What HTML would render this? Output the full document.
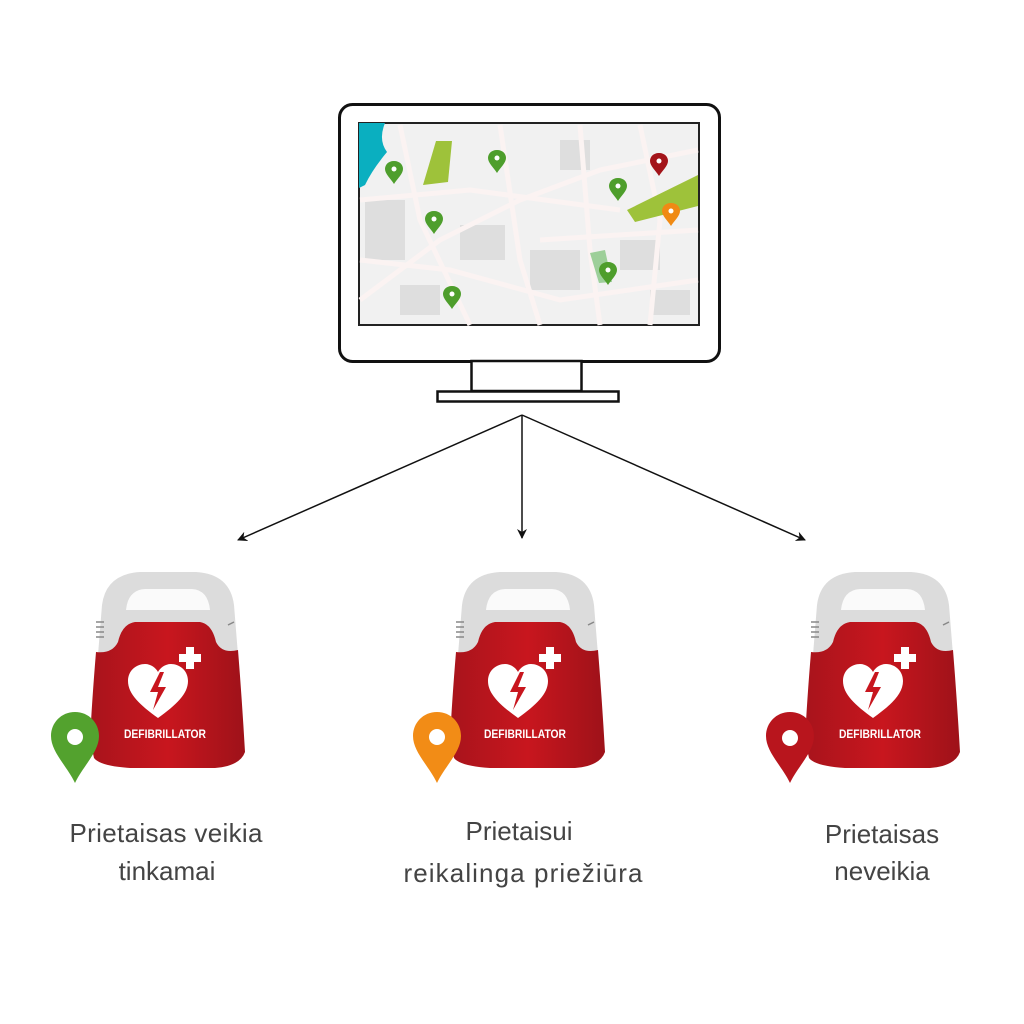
<!DOCTYPE html>
<html><head><meta charset="utf-8"><style>
html,body{margin:0;padding:0;background:#fff;width:1024px;height:1024px;overflow:hidden}
svg{display:block}
text{font-family:"Liberation Sans",sans-serif}
</style></head><body>
<svg width="1024" height="1024" viewBox="0 0 1024 1024" xmlns="http://www.w3.org/2000/svg">
<defs>
<linearGradient id="rg" x1="0" x2="1" y1="0" y2="0">
<stop offset="0" stop-color="#a8141c"/><stop offset="0.5" stop-color="#c8161e"/><stop offset="1" stop-color="#9e1219"/>
</linearGradient>
<marker id="ah" markerWidth="10" markerHeight="10" refX="9" refY="5" orient="auto" markerUnits="userSpaceOnUse">
<path d="M0,0 L10,5 L0,10 L3,5 z" fill="#111"/>
</marker>
<g id="defib">
<!-- gray dome -->
<path d="M98,655 L102,605 Q106,574 140,572 L196,572 Q230,574 234,605 L238,655 Z" fill="#dcdcdc"/>
<path d="M126,610 Q128,590 145,589 L192,589 Q208,590 210,610 Z" fill="#fafafa"/>
<!-- red body -->
<path d="M96,652 Q112,654 118,642 Q122,624 135,622 L200,622 Q212,624 216,642 Q222,654 238,650 Q242,700 245,752 Q240,766 215,768 L130,768 Q100,766 94,758 L90,740 Q92,700 96,652 Z" fill="url(#rg)"/>
<g stroke="#888" stroke-width="1.5"><line x1="96" y1="622" x2="104" y2="622"/><line x1="96" y1="627" x2="104" y2="627"/><line x1="96" y1="632" x2="104" y2="632"/><line x1="96" y1="637" x2="104" y2="637"/><line x1="228" y1="625" x2="234" y2="622"/></g>
<!-- heart -->
<path d="M158,718 C140,705 128,694 128,681 C128,670 137,664 145,664 C151,664 156,668 158,672 C160,668 165,664 171,664 C179,664 188,670 188,681 C188,694 176,705 158,718 Z" fill="#fff"/>
<path d="M160,672 L150,692 L158,692 L153,710 L166,687 L158,687 L164,672 Z" fill="#c8161e"/>
<rect x="186" y="647" width="8" height="22" fill="#fff"/><rect x="179" y="654" width="22" height="8" fill="#fff"/>
<text x="124" y="738" font-size="12" font-weight="bold" fill="#fff" textLength="82" lengthAdjust="spacingAndGlyphs">DEFIBRILLATOR</text>
</g>
<g id="pinsm"><path d="M0,0 C-6,0 -9,4 -9,8 C-9,13 -3,18 0,23 C3,18 9,13 9,8 C9,4 6,0 0,0 Z"/><circle cx="0" cy="8" r="2.5" fill="#fff"/></g>
</defs>

<rect x="339.5" y="104.5" width="380" height="257" rx="13" fill="#fff" stroke="#111" stroke-width="3"/>
<rect x="359" y="123" width="340" height="202" fill="#f1f1f1" stroke="#222" stroke-width="2"/>
<g fill="#dedede">
<rect x="365" y="200" width="40" height="60"/><rect x="460" y="225" width="45" height="35"/><rect x="530" y="250" width="50" height="40"/><rect x="620" y="240" width="40" height="30"/><rect x="400" y="285" width="40" height="30"/><rect x="560" y="140" width="30" height="30"/><rect x="650" y="290" width="40" height="25"/>
</g>
<g stroke="#fbf3f2" stroke-width="5" fill="none">
<path d="M360,300 L440,240 L520,200 L600,170 L698,150"/>
<path d="M500,125 L520,260 L540,325"/>
<path d="M580,125 L590,250 L600,325"/>
<path d="M360,260 L450,270 L560,300 L698,280"/>
<path d="M400,125 L420,220 L470,325"/>
<path d="M640,125 L660,220 L650,325"/>
<path d="M360,200 L470,190 L620,210"/>
<path d="M540,240 L698,230"/>
</g>
<path d="M359,123 L385,123 Q378,140 387,152 Q372,170 365,185 L359,188 Z" fill="#0aafc0"/>
<path d="M436,141 L452,141 L448,182 L423,185 Z" fill="#9ec23a"/>
<path d="M627,210 L698,175 L698,206 L635,222 Z" fill="#9ec23a"/>
<path d="M590,253 L605,250 L612,282 L599,283 Z" fill="#9dcf99"/>
<use href="#pinsm" x="394" y="161" fill="#4e9e2c"/>
<use href="#pinsm" x="497" y="150" fill="#4e9e2c"/>
<use href="#pinsm" x="434" y="211" fill="#4e9e2c"/>
<use href="#pinsm" x="452" y="286" fill="#4e9e2c"/>
<use href="#pinsm" x="618" y="178" fill="#4e9e2c"/>
<use href="#pinsm" x="608" y="262" fill="#4e9e2c"/>
<use href="#pinsm" x="659" y="153" fill="#a3141a"/>
<use href="#pinsm" x="671" y="203" fill="#f08a14"/>
<rect x="471.5" y="361" width="110" height="30" fill="#fff" stroke="#111" stroke-width="2.5"/>
<rect x="437.5" y="391.5" width="181" height="10" fill="#fff" stroke="#111" stroke-width="2.5"/>

<g stroke="#111" stroke-width="1.5" fill="none">
<line x1="522" y1="415" x2="238" y2="540" marker-end="url(#ah)"/>
<line x1="522" y1="415" x2="522" y2="538" marker-end="url(#ah)"/>
<line x1="522" y1="415" x2="805" y2="540" marker-end="url(#ah)"/>
</g>

<use href="#defib" x="0" y="0"/>
<use href="#defib" x="360" y="0"/>
<use href="#defib" x="715" y="0"/>

<g>
<path d="M75,712 C61,712 51,723 51,736 C51,752 67,766 75,783 C83,766 99,752 99,736 C99,723 89,712 75,712 Z" fill="#53a22e"/>
<circle cx="75" cy="737" r="8" fill="#fff"/>
<path d="M437,712 C423,712 413,723 413,736 C413,752 429,766 437,783 C445,766 461,752 461,736 C461,723 451,712 437,712 Z" fill="#f28c16"/>
<circle cx="437" cy="737" r="8" fill="#fff"/>
<path d="M790,712 C776,712 766,723 766,736 C766,752 782,766 790,783 C798,766 814,752 814,736 C814,723 804,712 790,712 Z" fill="#b8151d"/>
<circle cx="790" cy="738" r="8" fill="#fff"/>
</g>

<g fill="#444" font-size="26" text-anchor="middle">
<text x="166" y="842" textLength="193" lengthAdjust="spacing">Prietaisas veikia</text>
<text x="167" y="880">tinkamai</text>
<text x="519" y="840">Prietaisui</text>
<text x="523" y="882" textLength="239" lengthAdjust="spacing">reikalinga priežiūra</text>
<text x="882" y="843">Prietaisas</text>
<text x="882" y="880">neveikia</text>
</g>
</svg>
</body></html>
